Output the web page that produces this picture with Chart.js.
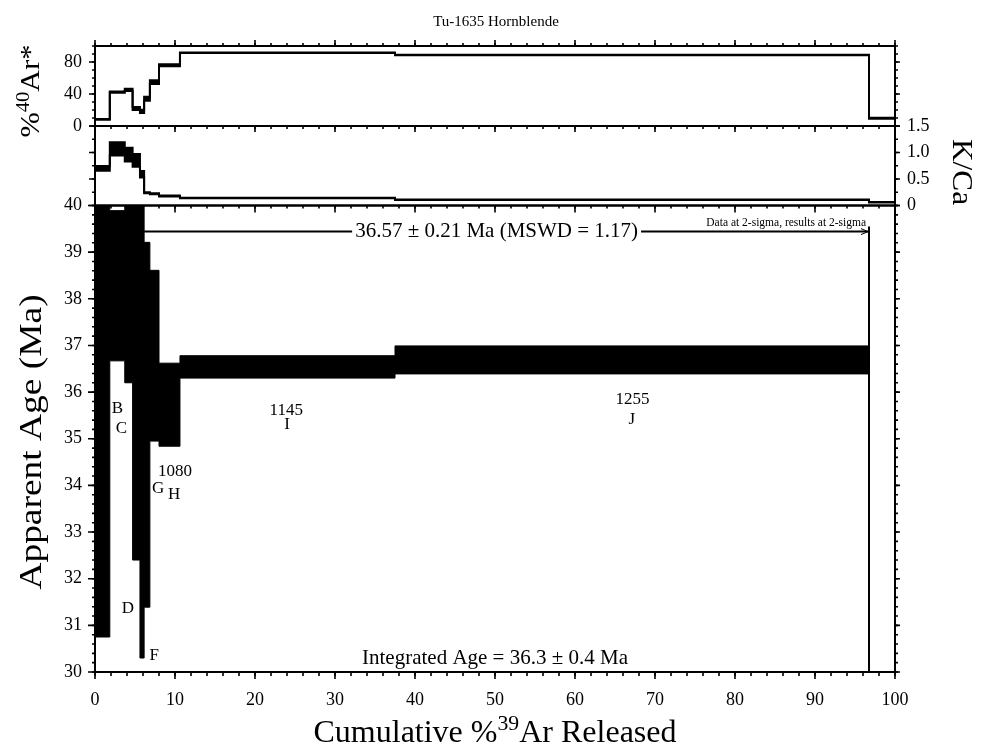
<!DOCTYPE html>
<html>
<head>
<meta charset="utf-8">
<script src="https://cdn.jsdelivr.net/npm/chart.js@4.4.0/dist/chart.umd.min.js"></script>
<style>
  body { margin: 0; background: #fff; }
  #wrap { position: relative; width: 985px; height: 755px; }
  #wrap canvas { position: absolute; left: 0; top: 0; }
</style>
</head>
<body>
<div id="wrap">
  <canvas id="arChart" width="985" height="755"></canvas>
  <canvas id="kcaChart" width="985" height="755"></canvas>
  <canvas id="ageChart" width="985" height="755"></canvas>
</div>
<script>
// heating steps, cumulative %39Ar at start / end of each step
var steps    = ['A', 'B', 'C', 'D', 'E', 'F', 'G', 'H', 'I', 'J', 'K'];
var cumStart = [0, 1.85, 3.72, 4.70, 5.62, 6.14, 6.86, 8.0, 10.62, 37.5, 96.75];
var cumEnd   = [1.85, 3.72, 4.70, 5.62, 6.14, 6.86, 8.0, 10.62, 37.5, 96.75, 100];

// apparent age (Ma) and 2-sigma error; step K is off scale
var ageMid = [36.40, 38.28, 38.70, 36.60, 36.00, 35.30, 36.78, 35.73, 36.54, 36.69];
var ageErr = [5.65, 1.61, 2.50, 4.20, 5.70, 3.91, 1.83, 0.89, 0.24, 0.30];

// %40Ar* and error
var ar40Mid = [8.4, 42.4, 45.2, 21.9, 18.3, 34.2, 54.8, 75.9, 91.5, 88.8, 9.6];
var ar40Err = [0.5, 0.8, 1.5, 2.0, 2.0, 2.5, 2.3, 1.3, 0.4, 0.4, 0.6];

// K/Ca and error
var kcaMid = [0.70, 1.07, 0.96, 0.85, 0.59, 0.24, 0.22, 0.18, 0.14, 0.11, 0.06];
var kcaErr = [0.045, 0.125, 0.13, 0.12, 0.06, 0.01, 0.01, 0.01, 0.005, 0.005, 0.005];

// plateau (steps F..J) and integrated age
var plateauFirst = 5, plateauLast = 9;
var plateauText = '36.57 \u00b1 0.21 Ma (MSWD = 1.17)';
var integratedText = 'Integrated Age = 36.3 \u00b1 0.4 Ma';

// tick labels
var ageTicks = [30, 31, 32, 33, 34, 35, 36, 37, 38, 39, 40];
var arTicks = [0, 40, 80];
var kcaTicks = [0, 0.5, 1.0, 1.5];

// step / temperature annotations (x in %39Ar, y in Ma)
var stepLabelText = ['B', 'C', 'D', 'F', 'G', 'H', 'I', 'J'];
var stepLabelX    = [2.8, 3.3, 4.1, 7.4, 7.9, 9.9, 24.0, 67.1];
var stepLabelAge  = [35.64, 35.21, 31.37, 30.36, 33.94, 33.81, 35.30, 35.42];
var tempText = ['1080', '1145', '1255'];
var tempX    = [10.0, 23.9, 67.2];
var tempAge  = [34.29, 35.60, 35.85];

var FONT = 'Liberation Serif';

function stepPoints(vals, n) {
  var pts = [];
  for (var i = 0; i < n; i++) pts.push({ x: cumStart[i], y: vals[i] });
  pts.push({ x: cumEnd[n - 1], y: vals[n - 1] });
  return pts;
}
function band(mid, err, sign) {
  return mid.map(function (m, i) { return m + sign * err[i]; });
}
function range(a, b, s) {
  var out = [];
  for (var v = a; v <= b + 1e-9; v += s) out.push(Math.round(v * 1000) / 1000);
  return out;
}

// signed length: positive = outside the panel
function marks(ctx, scale, area, side, values, len) {
  ctx.beginPath();
  values.forEach(function (v) {
    var p = scale.getPixelForValue(v);
    if (side === 'top') { ctx.moveTo(p, area.top); ctx.lineTo(p, area.top - len); }
    if (side === 'bottom') { ctx.moveTo(p, area.bottom); ctx.lineTo(p, area.bottom + len); }
    if (side === 'left') { ctx.moveTo(area.left, p); ctx.lineTo(area.left - len, p); }
    if (side === 'right') { ctx.moveTo(area.right, p); ctx.lineTo(area.right + len, p); }
  });
  ctx.stroke();
}

// text with optional superscript parts, centred at x,y; stretch widens along the text
function richText(ctx, parts, x, y, size, angle, stretch) {
  ctx.save();
  ctx.translate(x, y);
  ctx.rotate(angle);
  ctx.scale(stretch || 1, 1);
  ctx.textBaseline = 'alphabetic';
  ctx.textAlign = 'left';
  var w = 0;
  parts.forEach(function (p) {
    ctx.font = (p[1] ? size * 0.68 : size) + 'px "' + FONT + '"';
    p.w = ctx.measureText(p[0]).width;
    w += p.w;
  });
  var cx = -w / 2;
  parts.forEach(function (p) {
    ctx.font = (p[1] ? size * 0.68 : size) + 'px "' + FONT + '"';
    ctx.fillText(p[0], cx, p[1] ? -size * 0.36 : 0);
    cx += p.w;
  });
  ctx.restore();
}

function panelPlugin(spec, extra) {
  return {
    id: 'panel',
    afterDraw: function (chart) {
      var ctx = chart.ctx, a = chart.chartArea;
      var xs = chart.scales.x, ys = chart.scales.y;
      ctx.save();
      ctx.strokeStyle = '#000';
      ctx.lineWidth = 2;
      ctx.strokeRect(a.left, a.top, a.right - a.left, a.bottom - a.top);
      ctx.lineWidth = 1.6;
      spec.forEach(function (s) {
        marks(ctx, s.axis === 'x' ? xs : ys, a, s.side, s.values, s.len);
      });
      if (extra) extra(chart, ctx, a, xs, ys);
      ctx.restore();
    }
  };
}

function lineSets(hi, lo, n, width) {
  return [
    { data: stepPoints(hi, n), stepped: true, borderColor: '#000', backgroundColor: '#000',
      borderWidth: width, pointRadius: 0, fill: '+1', borderJoinStyle: 'miter' },
    { data: stepPoints(lo, n), stepped: true, borderColor: '#000',
      borderWidth: width, pointRadius: 0, fill: false, borderJoinStyle: 'miter' }
  ];
}

function tickFont() { return { family: FONT, size: 18 }; }

function baseOptions(padding, scales) {
  return {
    responsive: false,
    animation: false,
    events: [],
    layout: { padding: padding },
    plugins: { legend: { display: false }, tooltip: { enabled: false }, title: { display: false } },
    scales: scales
  };
}

var xMinor = range(0, 100, 2), xMajor = range(0, 100, 10);

// ---------- top panel: %40Ar* ----------
new Chart(document.getElementById('arChart'), {
  type: 'line',
  data: { datasets: lineSets(band(ar40Mid, ar40Err, 1), band(ar40Mid, ar40Err, -1), 11, 2) },
  options: baseOptions({ left: 0, right: 90, top: 46, bottom: 629 }, {
    x: { type: 'linear', min: 0, max: 100, display: false },
    y: {
      type: 'linear', min: 0, max: 100, position: 'left',
      afterFit: function (s) { s.width = 95; },
      afterBuildTicks: function (s) { s.ticks = arTicks.map(function (v) { return { value: v }; }); },
      ticks: { font: tickFont(), color: '#000', padding: 13 },
      grid: { display: false, drawTicks: false }, border: { display: false }
    }
  }),
  plugins: [panelPlugin([
    { axis: 'x', side: 'top', values: xMinor, len: 3 },
    { axis: 'x', side: 'top', values: xMajor, len: 6 },
    { axis: 'y', side: 'left', values: range(0, 100, 10), len: 3 },
    { axis: 'y', side: 'left', values: arTicks, len: 6 },
    { axis: 'y', side: 'right', values: range(0, 100, 10), len: 3 },
    { axis: 'y', side: 'right', values: arTicks, len: 5 }
  ], function (chart, ctx) {
    ctx.fillStyle = '#000';
    ctx.font = '15px "' + FONT + '"';
    ctx.textAlign = 'center';
    ctx.textBaseline = 'alphabetic';
    ctx.fillText('Tu-1635 Hornblende', 496, 26);
    richText(ctx, [['%', false], ['40', true], ['Ar*', false]], 39, 91, 27, -Math.PI / 2, 1.12);
  })]
});

// ---------- middle panel: K/Ca ----------
new Chart(document.getElementById('kcaChart'), {
  type: 'line',
  data: { datasets: lineSets(band(kcaMid, kcaErr, 1), band(kcaMid, kcaErr, -1), 11, 2) },
  options: baseOptions({ left: 95, right: 0, top: 126, bottom: 549.5 }, {
    x: { type: 'linear', min: 0, max: 100, display: false },
    y: {
      type: 'linear', min: 0, max: 1.5, position: 'right',
      afterFit: function (s) { s.width = 90; },
      afterBuildTicks: function (s) { s.ticks = kcaTicks.map(function (v) { return { value: v }; }); },
      ticks: { font: tickFont(), color: '#000', padding: 12,
        callback: function (v) { return v === 0 ? '0' : v.toFixed(1); } },
      grid: { display: false, drawTicks: false }, border: { display: false }
    }
  }),
  plugins: [panelPlugin([
    { axis: 'x', side: 'top', values: xMinor, len: -3 },
    { axis: 'x', side: 'top', values: xMajor, len: -6 },
    { axis: 'y', side: 'left', values: range(0, 1.5, 0.25), len: 3 },
    { axis: 'y', side: 'left', values: kcaTicks, len: 6 },
    { axis: 'y', side: 'right', values: range(0, 1.5, 0.25), len: 3 },
    { axis: 'y', side: 'right', values: kcaTicks, len: 5 }
  ], function (chart, ctx) {
    ctx.fillStyle = '#000';
    richText(ctx, [['K/Ca', false]], 953, 172, 29, Math.PI / 2, 1.08);
  })]
});

// ---------- bottom panel: apparent age spectrum ----------
new Chart(document.getElementById('ageChart'), {
  type: 'line',
  data: { datasets: lineSets(band(ageMid, ageErr, 1), band(ageMid, ageErr, -1), 10, 1) },
  options: baseOptions({ left: 0, right: 90, top: 205.5, bottom: 43 }, {
    x: {
      type: 'linear', min: 0, max: 100, position: 'bottom',
      afterFit: function (s) { s.height = 40; },
      ticks: { stepSize: 10, font: tickFont(), color: '#000', padding: 17, maxRotation: 0 },
      grid: { display: false, drawTicks: false }, border: { display: false }
    },
    y: {
      type: 'linear', min: 30, max: 40, position: 'left',
      afterFit: function (s) { s.width = 95; },
      afterBuildTicks: function (s) { s.ticks = ageTicks.map(function (v) { return { value: v }; }); },
      ticks: { font: tickFont(), color: '#000', padding: 13 },
      grid: { display: false, drawTicks: false }, border: { display: false }
    }
  }),
  plugins: [panelPlugin([
    { axis: 'x', side: 'top', values: xMinor, len: -3 },
    { axis: 'x', side: 'top', values: xMajor, len: -7 },
    { axis: 'x', side: 'bottom', values: xMinor, len: 4 },
    { axis: 'x', side: 'bottom', values: xMajor, len: 7 },
    { axis: 'y', side: 'left', values: range(30, 40, 0.2), len: 3 },
    { axis: 'y', side: 'left', values: ageTicks, len: 7 },
    { axis: 'y', side: 'right', values: range(30, 40, 0.2), len: 3 },
    { axis: 'y', side: 'right', values: ageTicks, len: 5 }
  ], function (chart, ctx, a, xs, ys) {
    ctx.fillStyle = '#000';
    ctx.strokeStyle = '#000';
    // plateau bracket
    var yP = ys.getPixelForValue(39.44);
    var xL = xs.getPixelForValue(cumStart[plateauFirst]);
    var xR = xs.getPixelForValue(cumEnd[plateauLast]);
    var xc = xs.getPixelForValue(50.2);
    ctx.font = '21px "' + FONT + '"';
    var tw = ctx.measureText(plateauText).width;
    ctx.lineWidth = 2;
    ctx.beginPath();
    ctx.moveTo(xL, yP); ctx.lineTo(xc - tw / 2 - 3, yP);
    ctx.moveTo(xc + tw / 2 + 3, yP); ctx.lineTo(xR, yP);
    ctx.moveTo(xR, yP - 5); ctx.lineTo(xR, a.bottom);
    ctx.stroke();
    ctx.lineWidth = 1;
    ctx.beginPath();
    ctx.moveTo(xR - 8, yP - 3); ctx.lineTo(xR - 1, yP); ctx.lineTo(xR - 8, yP + 3);
    ctx.stroke();
    ctx.textAlign = 'center';
    ctx.textBaseline = 'middle';
    ctx.fillText(plateauText, xc, yP);
    ctx.font = '11.5px "' + FONT + '"';
    ctx.textAlign = 'right';
    ctx.textBaseline = 'alphabetic';
    ctx.fillText('Data at 2-sigma, results at 2-sigma', xR - 3, yP - 6);
    // step labels
    ctx.font = '17px "' + FONT + '"';
    ctx.textAlign = 'center';
    ctx.textBaseline = 'middle';
    stepLabelText.forEach(function (t, i) {
      ctx.fillText(t, xs.getPixelForValue(stepLabelX[i]), ys.getPixelForValue(stepLabelAge[i]));
    });
    tempText.forEach(function (t, i) {
      ctx.fillText(t, xs.getPixelForValue(tempX[i]), ys.getPixelForValue(tempAge[i]));
    });
    // integrated age
    ctx.font = '21px "' + FONT + '"';
    ctx.textBaseline = 'alphabetic';
    ctx.fillText(integratedText, xs.getPixelForValue(50), 664);
    // axis titles
    richText(ctx, [['Apparent Age (Ma)', false]], 41, 442, 32, -Math.PI / 2, 1.17);
    richText(ctx, [['Cumulative %', false], ['39', true], ['Ar Released', false]], 495, 742, 32, 0);
  })]
});
</script>
</body>
</html>
